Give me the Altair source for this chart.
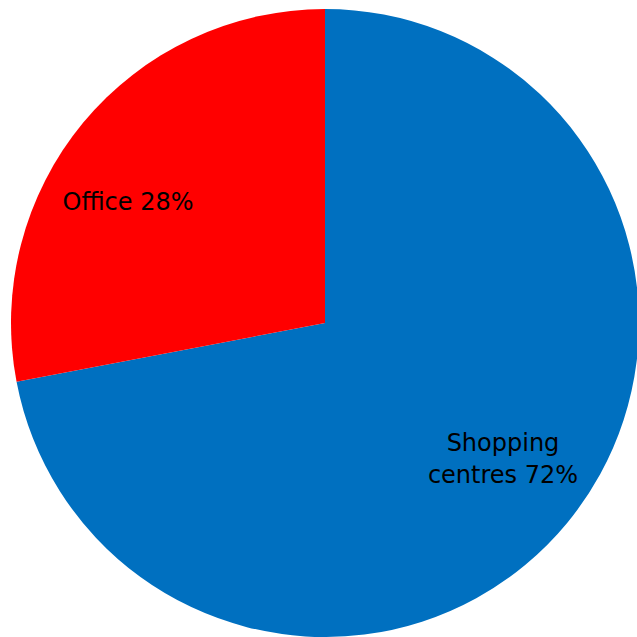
import altair as alt
import pandas as pd

categories = ["Shopping centres", "Office"]
shares = [72, 28]
labels = [["Shopping", "centres 72%"], ["Office 28%"]]
colors = ["#0070C0", "#FF0000"]

df = pd.DataFrame({"category": categories, "share": shares, "label": labels,
                   "order": [0, 1]})

theta_scale = alt.Scale(domain=[0, 100])

pie = alt.Chart(df).mark_arc(radius=314, stroke=None).encode(
    theta=alt.Theta("share:Q", stack=True, scale=theta_scale),
    order=alt.Order("order:Q"),
    color=alt.Color("category:N", scale=alt.Scale(domain=categories, range=colors), legend=None),
    x=alt.value(325),
    y=alt.value(323),
)

def lab(cat, dx, dy):
    return alt.Chart(df).transform_window(
        cum="sum(share)", sort=[alt.SortField("order")]
    ).transform_calculate(
        mid="datum.cum - datum.share / 2"
    ).transform_filter(alt.datum.category == cat).mark_text(
        radius=231, font="DejaVu Sans", fontSize=24, color="black",
        lineHeight=32, dx=dx, dy=dy, baseline="middle"
    ).encode(
        theta=alt.Theta("mid:Q", scale=theta_scale, stack=None),
        text="label",
        x=alt.value(325),
        y=alt.value(323),
    )

chart = alt.layer(pie, lab("Office", -19, 27), lab("Shopping centres", 0, -26)).properties(
    width=637, height=637, padding=0, autosize="none",
).configure_view(stroke=None)

chart.save("out.html", embed_options={"renderer": "svg", "actions": False})
